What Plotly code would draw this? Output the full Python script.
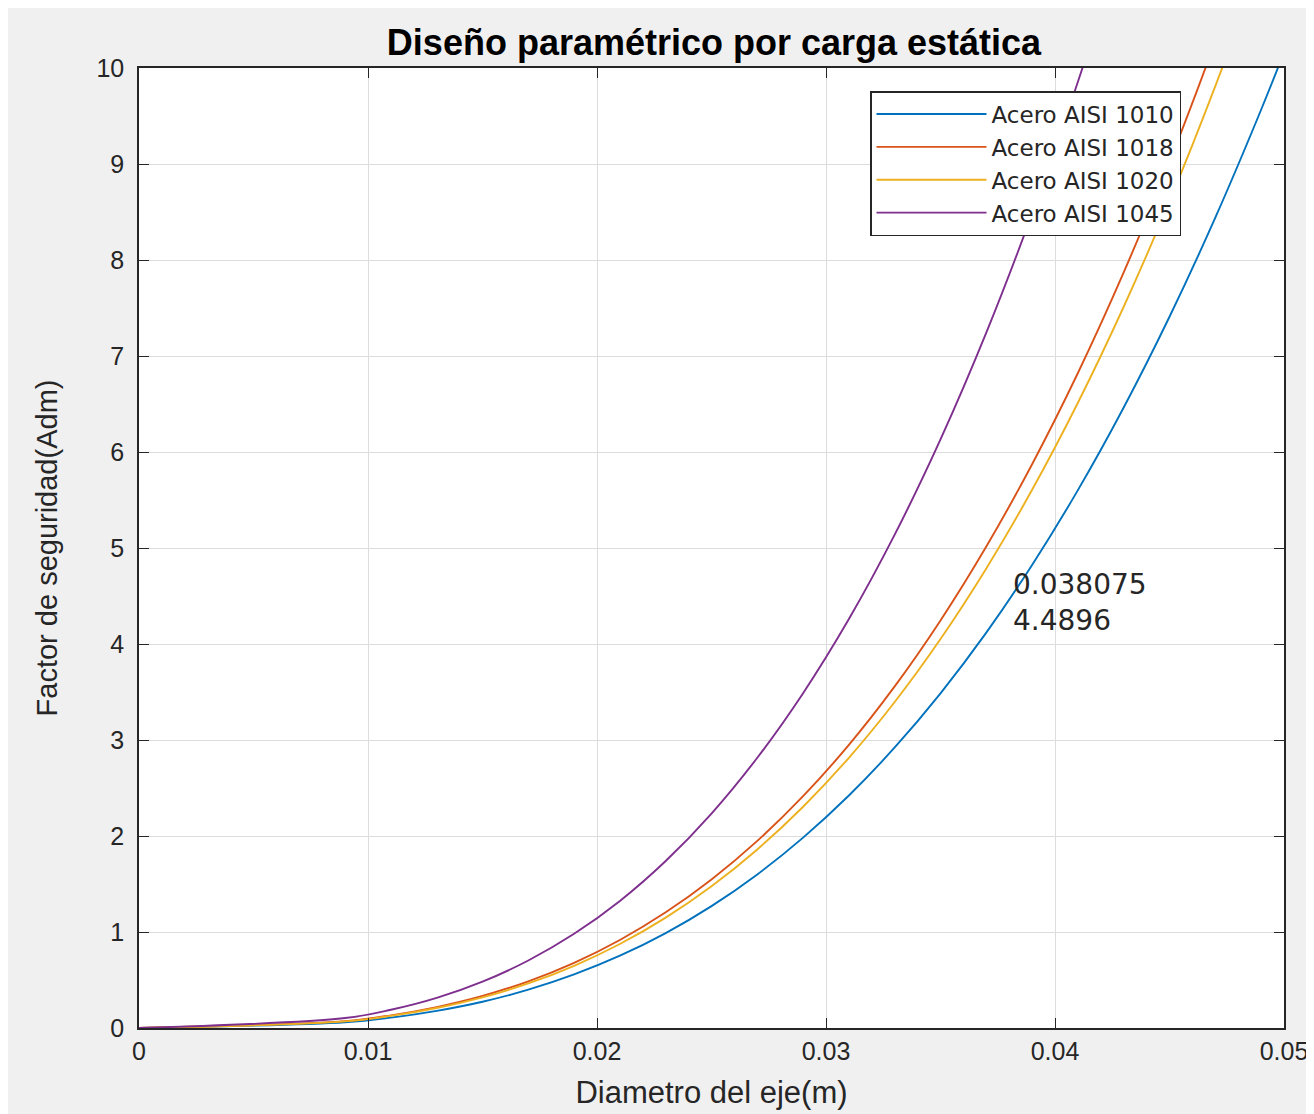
import plotly.graph_objects as go

# Diameter samples (m)
diametro = [0.0, 0.009, 0.011, 0.013, 0.015, 0.017, 0.019, 0.021, 0.023, 0.025, 0.027,
            0.029, 0.031, 0.033, 0.035, 0.037, 0.039, 0.041, 0.043, 0.045, 0.047, 0.049, 0.050]

# Factor of safety
fs_1010 = [0.0, 0.059, 0.108, 0.179, 0.274, 0.399, 0.558, 0.753, 0.989, 1.270, 1.600,
           1.983, 2.422, 2.922, 3.486, 4.118, 4.823, 5.603, 6.464, 7.409, 8.441, 9.565, 10.163]
fs_1018 = [0.0, 0.072, 0.132, 0.218, 0.334, 0.486, 0.679, 0.917, 1.205, 1.547, 1.949,
           2.415, 2.949, 3.558, 4.245, 5.015, 5.873, 6.823, 7.871, 9.021, 10.279, 11.647, 12.375]
fs_1020 = [0.0, 0.069, 0.126, 0.208, 0.319, 0.464, 0.648, 0.875, 1.150, 1.477, 1.860,
           2.305, 2.815, 3.396, 4.052, 4.787, 5.606, 6.513, 7.513, 8.611, 9.811, 11.118, 11.813]
fs_1045 = [0.0, 0.104, 0.190, 0.314, 0.483, 0.703, 0.981, 1.324, 1.740, 2.234, 2.815,
           3.488, 4.260, 5.139, 6.131, 7.243, 8.483, 9.856, 11.370, 13.031, 14.847, 16.824, 17.875]

series_names = ["Acero AISI 1010", "Acero AISI 1018", "Acero AISI 1020", "Acero AISI 1045"]
series_vals = [fs_1010, fs_1018, fs_1020, fs_1045]
colors = ["#0072BD", "#D95319", "#EDB120", "#7E2F8E"]

x_ticks = [0, 0.01, 0.02, 0.03, 0.04, 0.05]
x_ticktext = ["0", "0.01", "0.02", "0.03", "0.04", "0.05"]
y_ticks = list(range(0, 11))

tip_x, tip_y = 0.038075, 4.4896

FONT = "Liberation Sans, Arial, Helvetica, sans-serif"
WIDE = "DejaVu Sans, Liberation Sans, sans-serif"
TXT = "#262626"

fig = go.Figure()
for name, vals, c in zip(series_names, series_vals, colors):
    fig.add_trace(go.Scatter(x=diametro, y=vals, mode="lines", name=name,
                             line=dict(color=c, width=1.9, shape="spline", smoothing=1.0)))

OFF = 8  # page body margin
W, H = 1314 - OFF, 1114 - OFF
ml, mr, mt, mb = 139 - OFF, 30, 68 - OFF, 86
pw, ph = W - ml - mr, H - mt - mb

def px2paper_x(px):
    return (px - OFF - ml) / pw

def px2paper_y(py):
    return (H - mb - (py - OFF)) / ph

fig.update_layout(
    width=W, height=H,
    margin=dict(l=ml, r=mr, t=mt, b=mb, autoexpand=False),
    paper_bgcolor="#f0f0f0",
    plot_bgcolor="#ffffff",
    font=dict(family=FONT, color=TXT, size=25),
    title=dict(text="<b>Diseño paramétrico por carga estática</b>",
               x=(714 - OFF) / W, xanchor="center",
               y=1 - (42 - OFF) / H, yanchor="middle",
               font=dict(size=36, color="#000000", family=FONT)),
    xaxis=dict(range=[0, 0.05], tickvals=x_ticks, ticktext=x_ticktext,
               showgrid=True, gridcolor="#dcdcdc", gridwidth=1,
               zeroline=False, showline=True, linecolor="#262626", linewidth=1.5,
               mirror="allticks", ticks="inside", ticklen=10, tickcolor="#262626",
               tickfont=dict(size=25, color=TXT),
               title=dict(text="Diametro del eje(m)", font=dict(size=31, color=TXT), standoff=18)),
    yaxis=dict(range=[0, 10], tickvals=y_ticks,
               showgrid=True, gridcolor="#dcdcdc", gridwidth=1,
               zeroline=False, showline=True, linecolor="#262626", linewidth=1.5,
               mirror="allticks", ticks="inside", ticklen=10, tickcolor="#262626",
               tickfont=dict(size=25, color=TXT), ticklabelstandoff=8,
               title=dict(text="Factor de seguridad(Adm)", font=dict(size=29, color=TXT), standoff=30)),
    legend=dict(x=px2paper_x(870), xanchor="left", y=px2paper_y(91), yanchor="top",
                bgcolor="#ffffff", bordercolor="#262626", borderwidth=1.5,
                font=dict(size=23, color=TXT, family=WIDE),
                itemwidth=110, tracegroupgap=0),
    showlegend=True,
)

fig.add_annotation(x=tip_x, y=tip_y, xref="x", yref="y",
                   text=f"{tip_x:g}<br>{tip_y:g}", showarrow=False,
                   xanchor="left", yanchor="middle", align="left", yshift=-5,
                   font=dict(size=28, color=TXT, family=WIDE))

fig.write_html("out.html")
